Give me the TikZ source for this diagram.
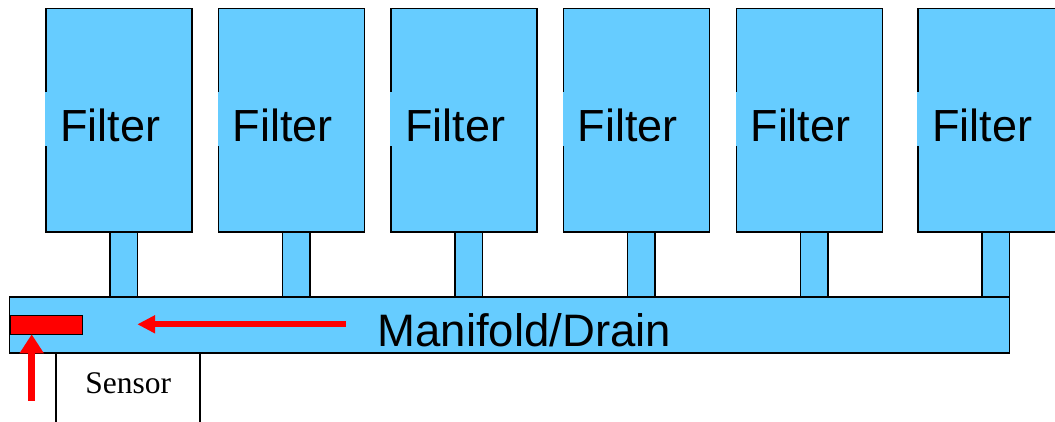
\documentclass[tikz,border=0pt]{standalone}
\usepackage{fontspec}
\setmainfont{Liberation Serif}
\newfontfamily\arialf{Liberation Sans}
\usetikzlibrary{arrows.meta}
\definecolor{pipeblue}{HTML}{66CCFF}
\definecolor{flowred}{HTML}{FF0000}
\begin{document}
\begin{tikzpicture}[x=1pt,y=-1pt,
  box/.style={draw=black, line width=1.5pt, fill=pipeblue, inner sep=0pt, outer sep=0pt, anchor=north west},
  filterbox/.style={box, minimum width=146pt, minimum height=223.7pt},
  stembox/.style={box, minimum width=27.5pt, minimum height=65pt},
  filterlabel/.style={fill=pipeblue, anchor=base west, inner ysep=0pt, inner xsep=14.8pt,
     text height=49.7pt, text depth=4.3pt, font=\arialf\fontsize{45}{54}\selectfont},
  redflow/.style={draw=flowred, line width=7.5pt, -{Triangle[length=19pt,width=23pt]}},
  redflowsmall/.style={draw=flowred, line width=6.3pt, -{Triangle[length=17.7pt,width=17pt]}}
]
\useasboundingbox (0,0) rectangle (1055,422);
\clip (0,0) rectangle (1055,422);
% sensor housing
\node[draw=black, line width=1.5pt, fill=white, minimum width=144pt, minimum height=90pt,
      inner sep=0pt, outer sep=0pt, anchor=north west] (sensor) at (56,353) {};
\node[anchor=base, inner sep=0pt, font=\fontsize{31.5}{36}\selectfont] (sensorlabel) at (128.3,393.3) {Sensor};
% stems
\foreach \i/\x in {1/46,2/218.7,3/391,4/563.7,5/736.3,6/918} {
  \node[stembox] (s\i) at (\x+64,232) {};
}
% manifold
\node[box, minimum width=1000pt, minimum height=56pt] (manifold) at (9.3,297) {};
\node[anchor=base west, inner sep=0pt, font=\arialf\fontsize{45.5}{54}\selectfont] (manlabel) at (377.4,346) {Manifold/Drain};
% filters
\foreach \i/\x in {1/46,2/218.7,3/391,4/563.7,5/736.3,6/918} {
  \node[filterbox] (f\i) at (\x,8.3) {};
  \node[filterlabel] (fl\i) at (\x-0.8,141.7) {Filter};
}
% sensor bar
\node[draw=black, line width=1pt, fill=flowred, minimum width=72.7pt, minimum height=19pt,
      inner sep=0pt, outer sep=0pt, anchor=north west] (redbar) at (10,315.3) {};
% arrows
\coordinate (uptail) at (31.7,400.7);
\draw[redflow] (uptail) -- (uptail |- redbar.south);
\coordinate (lefttail) at (345.7,324.3);
\coordinate (lefthead) at (137.3,324.3);
\draw[redflowsmall] (lefttail) -- (lefthead);
\end{tikzpicture}
\end{document}
